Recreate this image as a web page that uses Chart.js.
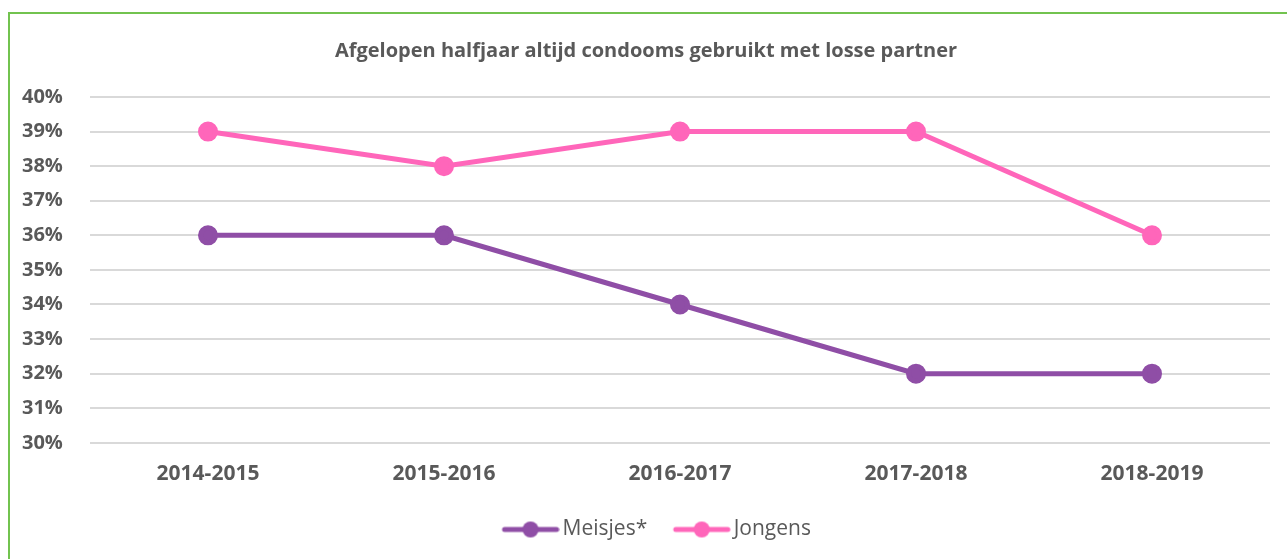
<!DOCTYPE html>
<html>
<head>
<meta charset="utf-8">
<script src="https://cdn.jsdelivr.net/npm/chart.js@4"></script>
<style>
  body { margin: 0; background: #fff; }
  #frame { position: absolute; left: 8px; top: 12px; width: 1300px; height: 570px; border: 2px solid #72c34f; }
  #wrap { position: absolute; left: 0; top: 0; width: 1287px; height: 559px; }
</style>
</head>
<body>
<div id="frame"></div>
<div id="wrap"><canvas id="chart1" width="1287" height="559"></canvas></div>
<script>
var years = ['2014-2015', '2015-2016', '2016-2017', '2017-2018', '2018-2019'];
var meisjes = [36, 36, 34, 32, 32];
var jongens = [39, 38, 39, 39, 36];
var purple = '#8f4ea6';
var pink = '#ff66ba';
var grey = '#595959';

// line + dot icon for the legend (blank space on the left keeps the items apart)
function legendIcon(color) {
  var c = document.createElement('canvas');
  c.width = 70; c.height = 18;
  var g = c.getContext('2d');
  g.strokeStyle = color;
  g.lineWidth = 5;
  g.lineCap = 'round';
  g.beginPath(); g.moveTo(15, 9); g.lineTo(67, 9); g.stroke();
  g.fillStyle = color;
  g.beginPath(); g.arc(41, 9, 8, 0, Math.PI * 2); g.fill();
  return c;
}

// nudge the legend a bit to the right (trailing padding makes it sit left)
var legendShift = {
  id: 'legendShift',
  afterLayout: function (chart) {
    chart.legend.left += 8;
    chart.legend.right += 8;
  }
};

Chart.defaults.font.family = '"Open Sans", sans-serif';
Chart.defaults.color = grey;

const ctx1 = document.getElementById('chart1');
const chart1 = new Chart(ctx1, {
  type: 'line',
  data: {
    labels: years,
    datasets: [{
      label: 'Meisjes*',
      data: meisjes,
      borderColor: purple,
      backgroundColor: purple,
      borderWidth: 5,
      pointRadius: 7.5,
      pointHoverRadius: 7.5
    }, {
      label: 'Jongens',
      data: jongens,
      borderColor: pink,
      backgroundColor: pink,
      borderWidth: 5,
      pointRadius: 7.5,
      pointHoverRadius: 7.5
    }]
  },
  plugins: [legendShift],
  options: {
    responsive: false,
    animation: false,
    layout: { padding: { left: 22, right: 17, top: 10, bottom: 9 } },
    plugins: {
      title: {
        display: true,
        text: 'Afgelopen halfjaar altijd condooms gebruikt met losse partner',
        font: { size: 20, weight: 'bold' },
        color: grey,
        padding: { top: 29, bottom: 34 }
      },
      legend: {
        position: 'bottom',
        labels: {
          usePointStyle: true,
          pointStyleWidth: 55,
          font: { size: 21 },
          color: grey,
          padding: 21,
          generateLabels: function (chart) {
            return chart.data.datasets.map(function (ds, i) {
              return {
                text: ds.label,
                fillStyle: ds.borderColor,
                strokeStyle: ds.borderColor,
                lineWidth: 0,
                pointStyle: legendIcon(ds.borderColor),
                datasetIndex: i,
                fontColor: grey
              };
            });
          }
        }
      },
      tooltip: { enabled: false }
    },
    scales: {
      x: {
        offset: true,
        grid: { display: false },
        border: { display: false },
        ticks: { font: { size: 21, weight: 'bold' }, color: grey, padding: 11 }
      },
      y: {
        min: 30,
        max: 40,
        border: { display: false },
        grid: { color: '#d9d9d9', lineWidth: 2, drawTicks: false },
        afterFit: function (scale) { scale.width = 68; },
        ticks: {
          stepSize: 1,
          crossAlign: 'far',
          padding: 0,
          font: { size: 20, weight: 'bold' },
          color: grey,
          callback: function (v) { return v + '%'; }
        }
      }
    }
  }
});
</script>
</body>
</html>
